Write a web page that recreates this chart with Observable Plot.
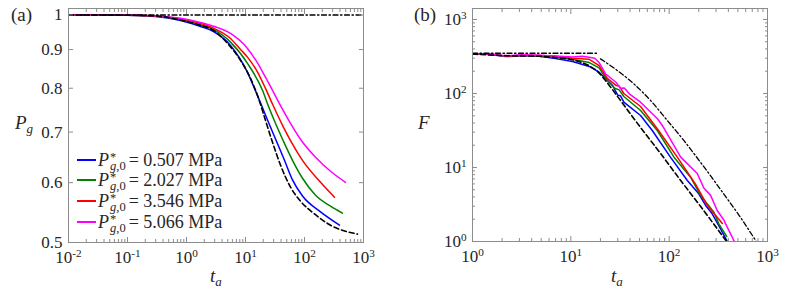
<!DOCTYPE html>
<html><head><meta charset="utf-8">
<script src="https://cdn.jsdelivr.net/npm/d3@7"></script>
<script src="https://cdn.jsdelivr.net/npm/@observablehq/plot@0.6"></script>
<style>
html,body{margin:0;padding:0;background:#fff;}
#wrap{position:relative;width:789px;height:290px;font-family:"Liberation Serif","Times New Roman","Tinos","DejaVu Serif",serif;color:#262626;overflow:hidden;}
.panel{position:absolute;top:0;}
.lbl{position:absolute;font-size:19px;white-space:nowrap;line-height:19px;}
.lbl sub{font-size:13px;vertical-align:-4px;line-height:0;}
.leg{position:absolute;left:77px;font-size:18px;line-height:18px;white-space:nowrap;}
.sw{display:inline-block;width:19px;height:1.6px;vertical-align:5px;margin-right:2px;}
.ss{display:inline-block;font-size:12.5px;line-height:9px;vertical-align:-4px;margin-left:1px;margin-right:3px;}
.ss span{display:block;}
</style></head><body>
<div id="wrap"></div>
<script>
// ---------- data: panel (a) P_g vs t_a ----------
const pgTheory = [[0.01,1],[0.1,0.9994],[0.3,0.997],[0.79,0.985],[1.73,0.969],[2.87,0.954],[5.15,0.914],[8.23,0.871],[12.2,0.824],[16.6,0.776],[21.8,0.7255],[28.7,0.6785],[39.2,0.633],[57.9,0.592],[85.5,0.567],[137,0.548],[276,0.527],[791,0.513]];
const pg0507 = [[0.01,1],[0.1,0.9991],[0.3,0.9954],[0.79,0.9834],[1.73,0.9656],[2.87,0.951],[5.57,0.9113],[10.8,0.8396],[14.2,0.7996],[18.7,0.7595],[24.5,0.7212],[33.5,0.6806],[45.8,0.6423],[62.6,0.605],[92.5,0.576],[187,0.549],[392,0.5272]];
const pg2027 = [[0.01,1],[0.1,0.9994],[0.3,0.996],[0.79,0.9864],[1.73,0.970],[2.87,0.957],[5.57,0.9206],[10.8,0.8629],[19.4,0.7951],[24.5,0.7572],[32.2,0.719],[44,0.6807],[62.6,0.6423],[92.5,0.6081],[154,0.5775],[276,0.5585],[440,0.5468]];
const pg3546 = [[0.01,1],[0.1,0.9994],[0.3,0.9967],[0.79,0.9885],[1.73,0.9745],[2.87,0.9606],[5.57,0.9311],[8.23,0.9004],[10.8,0.8795],[15.4,0.8447],[21.8,0.7996],[29.8,0.7572],[42.4,0.7145],[60.2,0.6785],[92.5,0.6423],[187,0.6007],[322,0.574]];
const pg5066 = [[0.01,1],[0.1,0.9997],[0.3,0.9973],[0.79,0.9903],[1.73,0.9774],[2.87,0.9665],[5.57,0.9453],[10.8,0.9032],[15.4,0.8681],[21.0,0.832],[28.7,0.7948],[40.7,0.7548],[57.9,0.719],[85.5,0.6849],[154,0.6482],[276,0.6212],[495,0.6007]];
const pgLimit = [[0.01,1],[1000,1]];

// ---------- data: panel (b) F vs t_a ----------
const fTheory = [[1,340],[2.17,325],[4.8,318],[7,305],[10.4,285],[15.5,235],[18.7,198],[22.5,150],[32,80.4],[51.2,34.7],[81.7,15.5],[131,6.67],[209,2.97],[384,1]];
const fPlateau = [[1,350],[18.5,350]];
const fDecay = [[20,294],[29.6,205],[43.7,135],[64.7,80.4],[95.7,43.2],[141,23.2],[209,11.7],[333,5.04],[532,2.11],[769,1]];
const f0507 = [[1,344],[1.5,336],[2.18,315],[2.7,318],[3.23,326],[4.77,319],[6.99,296],[10.4,271],[15.4,232],[19.4,194],[26.6,128],[30,95],[32,93],[34.6,76.3],[51.2,50.4],[67.3,31.6],[103,13.8],[153,6.67],[200,4.41],[235,3.07],[274,2.37],[333,1.48],[390,1]];
const f2027 = [[1,344],[1.5,338],[2.2,318],[3.2,328],[4.8,324],[7,308],[10.4,290],[15.4,262],[19.4,222],[23.5,150],[28,118],[31,112],[34.6,91],[51.2,59],[75.7,31.6],[112,13.8],[165,7.39],[209,4.19],[285,2.49],[320,1.73],[384,1.17]];
const f3546 = [[1,344],[1.5,340],[2.2,320],[3.2,330],[4.8,327],[7,318],[10.4,300],[15.4,290],[19.4,238],[23.5,160],[29,128],[31,126],[34.6,100],[51.2,66.7],[78,31.6],[121,13.8],[186,5.9],[244,3.07],[308,2.13],[347,1.75]];
const f5066 = [[1,344],[1.5,342],[2.2,322],[3.2,335],[4.8,328],[7,320],[10.4,312],[13,318],[15.4,309],[17.5,300],[19.4,262],[22.5,185],[28.7,142],[32,118],[35,119],[39.3,99],[51.2,76.3],[75.7,45.9],[85.1,37],[131,13.8],[193,8.3],[225,5.3],[264,4.2],[308,2.62],[360,1.95],[375,1.73],[460,1]];

// ---------- ticks and legend ----------
const aXTicks = [0.01,0.1,1,10,100,1000];
const aYTicks = [0.5,0.6,0.7,0.8,0.9,1];
const bXTicks = [1,10,100,1000];
const bYTicks = [1,10,100,1000];
const legendValues = ["0.507","2.027","3.546","5.066"];
const seriesColors = ["#0000ff","#008000","#ff0000","#ff00ff"];

const frameColor = "#8c8c8c";
const textColor = "#262626";
const fontStack = "'Liberation Serif', 'Times New Roman', Tinos, 'DejaVu Serif', serif";
const minorOf = (majors) => majors.slice(0,-1).flatMap(m => d3.range(2,10).map(k => k*m));
const expFmt = d => "10^" + Math.round(Math.log10(d));
const blank = () => "";

function line(data, stroke, extra = {}) {
  return Plot.line(data, {x: d => d[0], y: d => d[1], stroke, strokeWidth: 1.5, clip: true, ...extra});
}

function axes(xT, yT, xMinor, yMinor, xFmt, yFmt) {
  const common = {stroke: frameColor, label: null};
  const m = [
    Plot.axisX(xT, {...common, anchor: "bottom", tickSize: -5, tickPadding: 13, tickFormat: xFmt, fill: textColor}),
    Plot.axisX(xT, {...common, anchor: "top", tickSize: -5, tickFormat: blank}),
    Plot.axisY(yT, {...common, anchor: "left", tickSize: -5, tickPadding: 11, tickFormat: yFmt, fill: textColor}),
    Plot.axisY(yT, {...common, anchor: "right", tickSize: -5, tickFormat: blank}),
    Plot.axisX(xMinor, {...common, anchor: "bottom", tickSize: -3, tickFormat: blank}),
    Plot.axisX(xMinor, {...common, anchor: "top", tickSize: -3, tickFormat: blank})
  ];
  if (yMinor) {
    m.push(Plot.axisY(yMinor, {...common, anchor: "left", tickSize: -3, tickFormat: blank}));
    m.push(Plot.axisY(yMinor, {...common, anchor: "right", tickSize: -3, tickFormat: blank}));
  }
  return m;
}

const style = {fontFamily: fontStack, fontSize: "17px", color: textColor, background: "transparent", overflow: "visible"};
const smooth = {curve: "monotone-x"};
const dashed = {strokeWidth: 1.6, strokeDasharray: "5,3", curve: "monotone-x"};
const dashDot = {strokeWidth: 1.3, strokeDasharray: "5,2.5,1.5,2.5", curve: "monotone-x"};

const plotA = Plot.plot({
  width: 395, height: 290, marginLeft: 68, marginRight: 32, marginTop: 8, marginBottom: 48,
  x: {type: "log", domain: [0.01, 1000], label: null},
  y: {type: "log", domain: [0.5, 1.02], label: null},
  style,
  marks: [
    line(pg0507, seriesColors[0], smooth),
    line(pg2027, seriesColors[1], smooth),
    line(pg3546, seriesColors[2], smooth),
    line(pg5066, seriesColors[3], smooth),
    line(pgTheory, "#000", dashed),
    line(pgLimit, "#000", dashDot),
    Plot.frame({stroke: frameColor}),
    ...axes(aXTicks, aYTicks, minorOf(aXTicks), null, expFmt, d => String(d))
  ]
});

const plotB = Plot.plot({
  width: 394, height: 290, marginLeft: 77, marginRight: 22, marginTop: 8, marginBottom: 49,
  x: {type: "log", domain: [1, 1000], label: null},
  y: {type: "log", domain: [1, 1408], label: null},
  style,
  marks: [
    line(f0507, seriesColors[0]),
    line(f2027, seriesColors[1]),
    line(f3546, seriesColors[2]),
    line(f5066, seriesColors[3]),
    line(fTheory, "#000", dashed),
    line(fPlateau, "#000", dashDot),
    line(fDecay, "#000", dashDot),
    Plot.frame({stroke: frameColor}),
    ...axes(bXTicks, bYTicks, minorOf(bXTicks), minorOf(bYTicks), expFmt, expFmt)
  ]
});

function superscripts(svg) {
  d3.select(svg).selectAll("text").each(function() {
    const s = this.textContent;
    if (!s.includes("^")) return;
    const [base, ex] = s.split("^");
    const t = d3.select(this);
    t.text(null);
    t.append("tspan").text(base);
    t.append("tspan").attr("dy", "-0.5em").attr("font-size", "0.66em").text(ex);
  });
}
superscripts(plotA); superscripts(plotB);

const wrap = document.getElementById("wrap");
plotA.classList.add("panel"); plotA.style.left = "0px";
plotB.classList.add("panel"); plotB.style.left = "395px";
wrap.appendChild(plotA); wrap.appendChild(plotB);

function addLabel(html, left, top) {
  const d = document.createElement("div");
  d.className = "lbl"; d.innerHTML = html;
  d.style.left = left + "px"; d.style.top = top + "px";
  wrap.appendChild(d);
}
addLabel("(a)", 11, 5);
addLabel("<i>P</i><sub><i>g</i></sub>", 15, 113);
addLabel("<i>t</i><sub><i>a</i></sub>", 210, 266);
addLabel("(b)", 414, 5);
addLabel("<i>F</i>", 418, 113);
addLabel("<i>t</i><sub><i>a</i></sub>", 611, 266);

const legendTops = [151, 171, 192, 213];
legendValues.forEach((v, i) => {
  const d = document.createElement("div");
  d.className = "leg";
  d.style.top = legendTops[i] + "px";
  d.innerHTML = `<span class="sw" style="background:${seriesColors[i]}"></span><i>P</i><span class="ss"><span>*</span><span><i>g</i>,0</span></span>= ${v} MPa`;
  wrap.appendChild(d);
});
</script>
</body></html>
